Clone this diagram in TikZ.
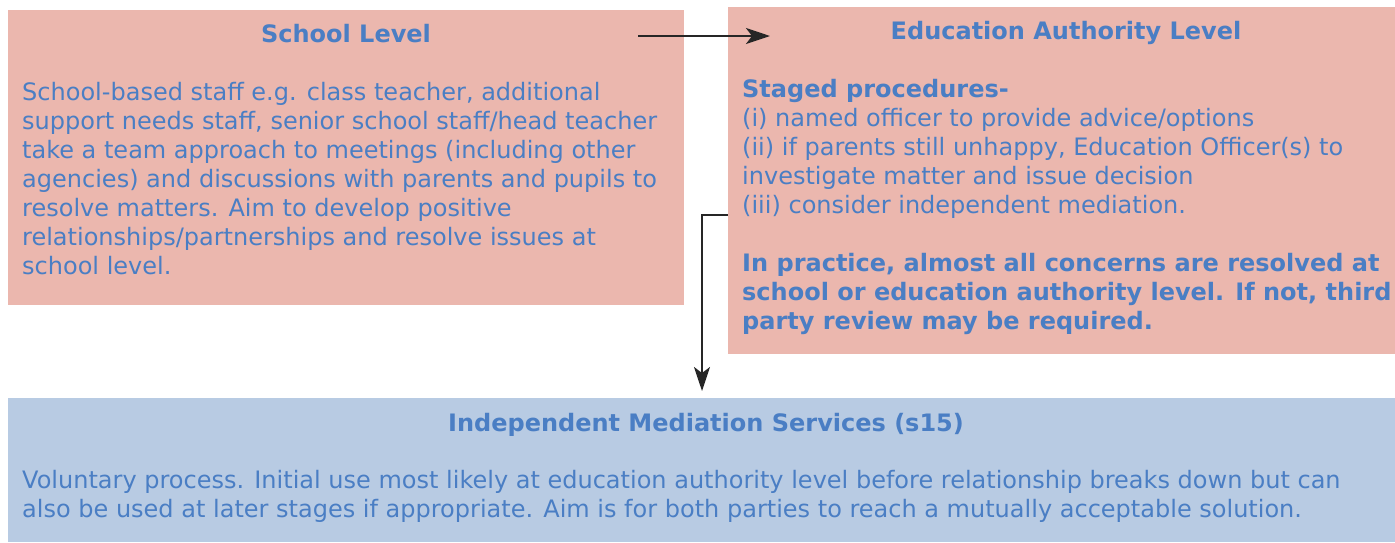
\documentclass[tikz,border=0pt]{standalone}
\usepackage{fontspec}
\setmainfont{DejaVu Sans}
\usetikzlibrary{arrows.meta}
\definecolor{pinkbox}{HTML}{EBB7AE}
\definecolor{bluebox}{HTML}{B8CBE3}
\definecolor{txtblue}{HTML}{4A7EC4}
\definecolor{arrowgray}{HTML}{262626}
\tikzset{
  body/.style={anchor=north west, inner sep=0pt, align=left, text=txtblue,
    font=\fontsize{24}{29}\selectfont},
  ttl/.style={anchor=base, inner sep=0pt, text=txtblue,
    font=\fontsize{24}{29}\selectfont\bfseries},
  conn/.style={draw=arrowgray, line width=2.4pt, -{Stealth[length=24pt,width=16pt,inset=6pt]}}
}
\begin{document}
\begin{tikzpicture}[x=1pt,y=-1pt]
\useasboundingbox (0,0) rectangle (1395,542);
% boxes
\fill[pinkbox] (8,10) rectangle (684,305);
\fill[pinkbox] (728,7) rectangle (1395,354);
\fill[bluebox] (8,398) rectangle (1395,542);
% titles
\node[ttl] (schooltitle) at (346,42) {School Level};
\node[ttl] (eatitle) at (1066,39) {Education Authority Level};
\node[ttl] (medtitle) at (706,431) {Independent Mediation Services (s15)};
% school text
\node[body] (schooltext) at (22,82) {School-based staff e.g. class teacher, additional\\
support needs staff, senior school staff/head teacher\\
take a team approach to meetings (including other\\
agencies) and discussions with parents and pupils to\\
resolve matters. Aim to develop positive\\
relationships/partnerships and resolve issues at\\
school level.};
% EA text
\node[body] (eatext) at (742,79) {\textbf{Staged procedures-}\\
(i) named officer to provide advice/options\\
(ii) if parents still unhappy, Education Officer(s) to\\
investigate matter and issue decision\\
(iii) consider independent mediation.\\[29pt]
\textbf{In practice, almost all concerns are resolved at}\\
\textbf{school or education authority level. If not, third}\\
\textbf{party review may be required.}};
% mediation text
\node[body] (medtext) at (22,470) {Voluntary process. Initial use most likely at education authority level before relationship breaks down but can\\
also be used at later stages if appropriate. Aim is for both parties to reach a mutually acceptable solution.};
% arrows
\coordinate (a1s) at (638,36);
\coordinate (a1e) at (770,36);
\draw[conn] (a1s) -- (a1e);
\coordinate (a2s) at (728,215);
\coordinate (a2e) at (702,391);
\draw[conn] (a2s) -| (a2e);
\end{tikzpicture}
\end{document}
